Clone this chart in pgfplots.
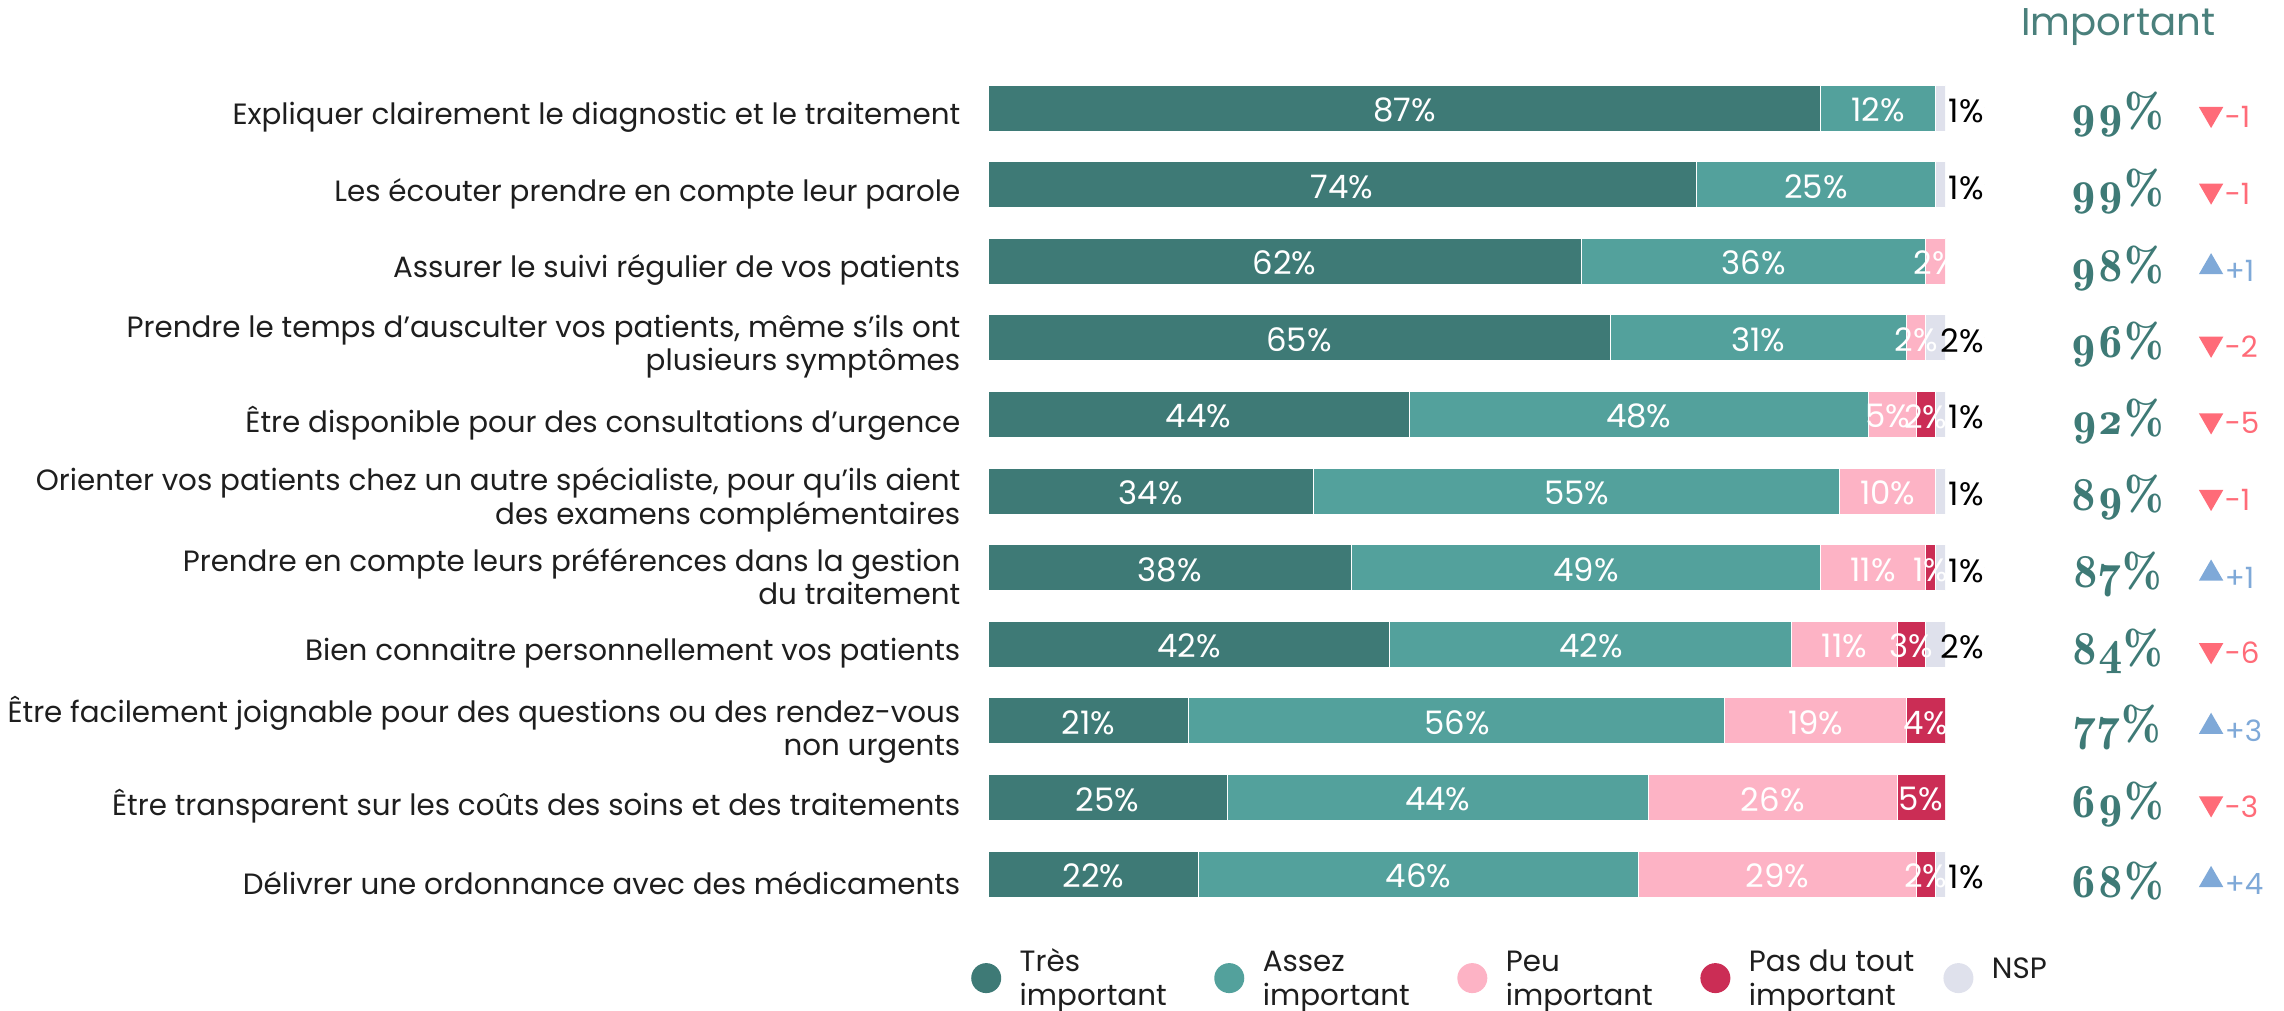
\documentclass[border=0pt]{standalone}
\usepackage{fontspec}
\setmainfont{Poppins}
\newfontfamily\numfont[Numbers=OldStyle]{lmromandemi10-regular.otf}
\usepackage{pgfplots}
\usepackage{pgfplotstable}
\pgfplotsset{compat=1.18}

\definecolor{tres}{HTML}{3E7A76}
\definecolor{assez}{HTML}{53A19C}
\definecolor{peu}{HTML}{FDB3C5}
\definecolor{pasdu}{HTML}{CB2D55}
\definecolor{nsp}{HTML}{DFE1EC}
\definecolor{down}{HTML}{FF6B78}
\definecolor{up}{HTML}{7FA9D8}
\definecolor{head}{HTML}{4A807C}
\definecolor{txt}{HTML}{1E1E1E}

\newcommand\labfont{\fontsize{8.35pt}{9.5pt}\selectfont}
\newcommand\valfont{\fontsize{9.2pt}{10pt}\selectfont}

% shares per row: tres, assez, peu, pas du tout, nsp
\pgfplotstableread{
row tres assez peu pasdu nsp
0 87 12 0 0 1
1 74 25 0 0 1
2 62 36 2 0 0
3 65 31 2 0 2
4 44 48 5 2 1
5 34 55 10 0 1
6 38 49 11 1 1
7 42 42 11 3 2
8 21 56 19 4 0
9 25 44 26 5 0
10 22 46 29 2 1
}\parts

% labels inside the bars (segment middle)
\pgfplotstableread{
mid row lab
43.5 0 87
93 0 12
37 1 74
86.5 1 25
31 2 62
80 2 36
99 2 2
32.5 3 65
80.5 3 31
97 3 2
22 4 44
68 4 48
94 4 5
98 4 2
17 5 34
61.5 5 55
94 5 10
19 6 38
62.5 6 49
92.5 6 11
98.5 6 1
21 7 42
63 7 42
89.5 7 11
96.5 7 3
10.5 8 21
49 8 56
86.5 8 19
98 8 4
12.5 9 25
47 9 44
82 9 26
97.5 9 5
11 10 22
45 10 46
82.5 10 29
98 10 2
}\inner

% nsp shown outside the bar
\pgfplotstableread{
x row lab
104.1 0 1
104.1 1 1
104.1 3 2
104.1 4 1
104.1 5 1
104.1 6 1
104.1 7 2
104.1 10 1
}\outside

% total important
\pgfplotstableread{
x row lab
118 0 99
118 1 99
118 2 98
118 3 96
118 4 92
118 5 89
118 6 87
118 7 84
118 8 77
118 9 69
118 10 68
}\total

\pgfplotstableread{
x row lab
127.8 0 -1
127.8 1 -1
127.8 3 -2
127.8 4 -5
127.8 5 -1
127.8 7 -6
127.8 9 -3
}\down

\pgfplotstableread{
x row lab
127.8 2 +1
127.8 6 +1
127.8 8 +3
127.8 10 +4
}\up

\pgfplotsset{
  frame/.style={
    at={(9.88cm,0.987cm)}, anchor=south west,
    scale only axis, width=9.57cm, height=8.426cm,
    xmin=0, xmax=100, ymin=-0.5, ymax=10.5, y dir=reverse,
  },
}

\begin{document}
\begin{tikzpicture}
\path[use as bounding box] (0,0) rectangle (22.84cm,10.11cm);

\begin{axis}[
  frame,
  xbar stacked, bar width=0.46cm,
  axis line style={draw=none}, major tick length=0pt,
  xtick=\empty, ytick={0,...,10},
  yticklabels={
    {Expliquer clairement le diagnostic et le traitement},
    {Les écouter prendre en compte leur parole},
    {Assurer le suivi régulier de vos patients},
    {Prendre le temps d’ausculter vos patients, même s’ils ont\\plusieurs symptômes},
    {Être disponible pour des consultations d’urgence},
    {Orienter vos patients chez un autre spécialiste, pour qu’ils aient\\des examens complémentaires},
    {Prendre en compte leurs préférences dans la gestion\\du traitement},
    {Bien connaitre personnellement vos patients},
    {Être facilement joignable pour des questions ou des rendez-vous\\non urgents},
    {Être transparent sur les coûts des soins et des traitements},
    {Délivrer une ordonnance avec des médicaments}},
  yticklabel style={align=right, font=\labfont, text=txt, inner sep=0pt, xshift=-0.27cm, yshift=-0.09cm},
  legend columns=5,
  legend style={at={(-0.0188,-0.0335)}, anchor=north west, draw=none, fill=none,
    inner sep=0pt, font=\labfont, text=txt,
    /tikz/every even column/.append style={column sep=0pt}},
  legend cell align=left,
  legend image code/.code={\path[#1, draw=none] (0.15cm,-0.07cm) circle (0.15cm); \path (0,0) (0.41cm,0);},
]
\addplot[fill=tres, draw=white, line width=0.01cm] table[x=tres, y=row] {\parts};
\addplot[fill=assez, draw=white, line width=0.01cm] table[x=assez, y=row] {\parts};
\addplot[fill=peu, draw=white, line width=0.01cm] table[x=peu, y=row] {\parts};
\addplot[fill=pasdu, draw=white, line width=0.01cm] table[x=pasdu, y=row] {\parts};
\addplot[fill=nsp, draw=white, line width=0.01cm] table[x=nsp, y=row] {\parts};
\addlegendentry{\begin{tabular}{@{}p{1.87cm}@{}}Très\\important\end{tabular}}
\addlegendentry{\begin{tabular}{@{}p{1.87cm}@{}}Assez\\important\end{tabular}}
\addlegendentry{\begin{tabular}{@{}p{1.87cm}@{}}Peu\\important\end{tabular}}
\addlegendentry{\begin{tabular}{@{}p{1.87cm}@{}}Pas du tout\\important\end{tabular}}
\addlegendentry{NSP}
\end{axis}

% labels inside the bars, cut at the bar end
\begin{axis}[frame, hide axis]
\addplot[only marks, mark=*, mark size=0pt, mark options={draw=none, fill=none},
  point meta=explicit symbolic,
  nodes near coords={\pgfplotspointmeta\%},
  every node near coord/.append style={anchor=center, font=\valfont, text=white, inner sep=0pt, yshift=-0.02cm}]
  table[x=mid, y=row, meta=lab] {\inner};
\end{axis}

% outside texts
\begin{axis}[frame, hide axis, clip=false]
\addplot[only marks, mark=*, mark size=0pt, mark options={draw=none, fill=none},
  point meta=explicit symbolic,
  nodes near coords={\pgfplotspointmeta\%},
  every node near coord/.append style={anchor=east, font=\valfont, text=black, inner sep=0pt, yshift=-0.03cm}]
  table[x=x, y=row, meta=lab] {\outside};
\addplot[only marks, mark=*, mark size=0pt, mark options={draw=none, fill=none},
  point meta=explicit symbolic,
  nodes near coords={\numfont\pgfplotspointmeta\%},
  every node near coord/.append style={anchor=center, font=\fontsize{13.5pt}{15pt}\selectfont, text=tres, inner sep=0pt, yshift=-0.07cm}]
  table[x=x, y=row, meta=lab] {\total};
\addplot[only marks, color=down, mark=triangle*, mark size=0.127cm, mark options={rotate=180, draw=down, fill=down, yshift=0.06cm},
  point meta=explicit symbolic,
  nodes near coords={\pgfplotspointmeta},
  every node near coord/.append style={anchor=west, xshift=0.13cm, yshift=-0.03cm, font=\labfont, text=down, inner sep=0pt}]
  table[x=x, y=row, meta=lab] {\down};
\addplot[only marks, color=up, mark=triangle*, mark size=0.127cm, mark options={draw=up, fill=up, yshift=-0.06cm},
  point meta=explicit symbolic,
  nodes near coords={\pgfplotspointmeta},
  every node near coord/.append style={anchor=west, xshift=0.13cm, yshift=-0.04cm, font=\labfont, text=up, inner sep=0pt}]
  table[x=x, y=row, meta=lab] {\up};
\node[anchor=base, font=\fontsize{11pt}{13pt}\selectfont, text=head] at (axis cs:118.1,-0.94) {Important};
\end{axis}
\end{tikzpicture}
\end{document}
